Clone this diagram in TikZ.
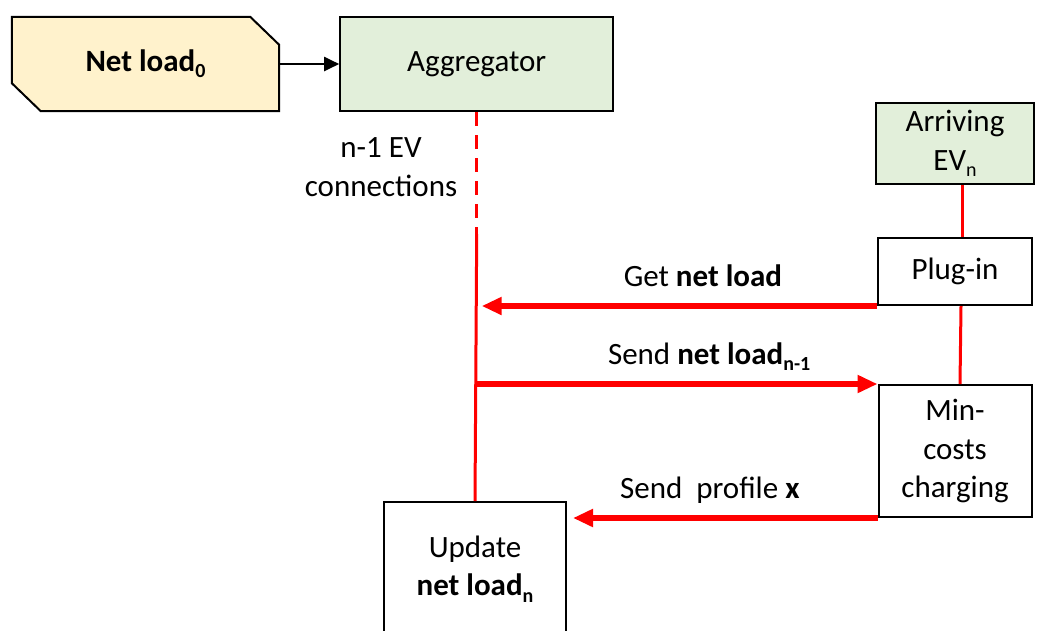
\documentclass[tikz,border=0pt]{standalone}
\usepackage{fontspec}
\setmainfont{Carlito}
\usepackage{tikz}
\usetikzlibrary{arrows.meta, positioning, calc, backgrounds}
\definecolor{loadyellow}{HTML}{FFF2CC}
\definecolor{aggrgreen}{HTML}{E2EFDA}
\newcommand{\low}[1]{\raisebox{-0.2em}{\fontsize{20}{20}\selectfont #1}}

\begin{document}
\begin{tikzpicture}[
        x=1pt, y=-1pt,
        font=\fontsize{31}{38.5}\selectfont,
        box/.style={rectangle, draw=black, line width=2pt, align=center, inner sep=0pt},
        greenbox/.style={box, fill=aggrgreen},
        arrow/.style={-{Triangle[length=15pt, width=14pt]}, line width=2pt},
        flow/.style={-{Triangle[length=20pt, width=17pt]}, draw=red, line width=5.5pt},
        link/.style={draw=red, line width=3pt},
        msg/.style={anchor=base, yshift=20pt, inner sep=0pt}
    ]
        \useasboundingbox (0,0) rectangle (1038,630);
        \clip (0,0) rectangle (1038,630);

        \node[minimum width=267pt, minimum height=94pt, inner sep=0pt] (netload) at (145.5,64) {\textbf{Net load\low{0}}};
        \node[greenbox, minimum width=273pt, minimum height=94pt, right=60pt of netload] (aggr) {Aggregator};
        \node[greenbox, minimum width=158pt, minimum height=81pt] (arriving) at (955,143.5) {Arriving\\EV\low{n}};
        \node[box, minimum width=154pt, minimum height=67pt, below=52pt of arriving] (plugin) {Plug-in};
        \node[box, minimum width=153pt, minimum height=132pt, below=78pt of plugin] (mincost) {Min-\\costs\\charging};
        \node[box, minimum width=182pt, minimum height=134pt] (update) at (475,569) {Update\\\textbf{net load\low{n}}};

        \begin{scope}[on background layer]
            \draw[fill=loadyellow, line width=2pt] (netload.north west) -- ($(netload.north east)+(-29,0)$) -- ($(netload.north east)+(0,28)$)
                -- (netload.south east) -- ($(netload.south west)+(29,0)$) -- ($(netload.south west)+(0,-28)$) -- cycle;
        \end{scope}

        \coordinate (split) at ($(aggr.south)+(0,122)$);
        \draw[arrow] (netload) -- (aggr);
        \draw[link, dash pattern=on 14pt off 9pt] (aggr.south) -- node[pos=0.45, left=18pt, inner sep=0pt, align=center] {n-1 EV\\connections} (split);
        \draw[link] (split) -- (update.north);
        \draw[link] ($(arriving.south)+(7,0)$) -- ($(plugin.north)+(7,0)$);
        \draw[link] ($(plugin.south)+(6,0)$) -- ($(mincost.north)+(5,0)$);
        \draw[flow, shorten >=5pt] (plugin.south west) -- node[msg, pos=0.435] {Get \textbf{net load}} (plugin.south west -| split);
        \draw[flow] (mincost.north west -| split) -- node[msg, pos=0.58] {Send \textbf{net load\low{n-1}}} (mincost.north west);
        \draw[flow, shorten >=6pt] (mincost.south west) -- node[msg, pos=0.54] {Send\ \ profile \textbf{x}} (mincost.south west -| update.east);
    \end{tikzpicture}
\end{document}
